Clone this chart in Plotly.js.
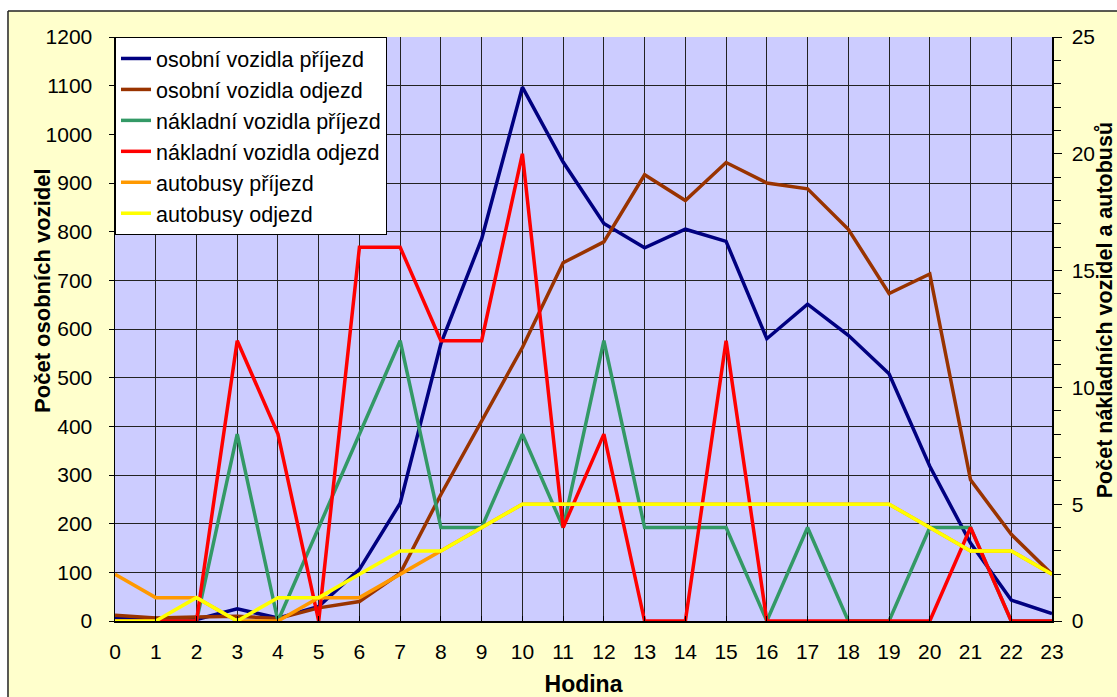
<!DOCTYPE html>
<html>
<head>
<meta charset="utf-8">
<script src="https://cdn.plot.ly/plotly-3.0.1.min.js"></script>
<style>html,body{margin:0;padding:0;background:#fff;}#chart{width:1117px;height:697px;}</style>
</head>
<body>
<div id="chart"></div>
<script>
const hours = [0,1,2,3,4,5,6,7,8,9,10,11,12,13,14,15,16,17,18,19,20,21,22,23];
const osobniPrijezd = [5,5,3,25,6,30,106,242,570,785,1097,943,817,767,805,780,580,651,587,508,318,160,43,15];
const osobniOdjezd  = [12,6,8,10,5,27,40,98,260,410,562,736,779,917,864,942,900,888,805,673,713,290,178,96];
const nakladniPrijezd = [0,0,0,8,0,4,8,12,4,4,8,4,12,4,4,4,0,4,0,0,4,4,0,0];
const nakladniOdjezd  = [0,0,0,12,8,0,16,16,12,12,20,4,8,0,0,12,0,0,0,0,0,4,0,0];
const autobusyPrijezd = [2,1,1,0,0,1,1,2,3,4,5,5,5,5,5,5,5,5,5,5,4,3,3,2];
const autobusyOdjezd  = [0,0,1,0,1,1,2,3,3,4,5,5,5,5,5,5,5,5,5,5,4,3,3,2];
const seriesNames = ["osobní vozidla příjezd","osobní vozidla odjezd","nákladní vozidla příjezd","nákladní vozidla odjezd","autobusy příjezd","autobusy odjezd"];
const seriesColors = ["#000080","#993300","#339966","#FF0000","#FF9900","#FFFF00"];
const leftTicks = [0,100,200,300,400,500,600,700,800,900,1000,1100,1200];
const rightTicks = [0,5,10,15,20,25];
const leftTitle = 'Počet osobních vozidel';
const rightTitle = 'Počet nákladních vozidel a autobusů';

const data = [osobniPrijezd, osobniOdjezd, nakladniPrijezd, nakladniOdjezd, autobusyPrijezd, autobusyOdjezd];
const traces = data.map((vals, i) => ({
  x: hours, y: vals, type: 'scatter', mode: 'lines',
  name: seriesNames[i], legendgroup: 'g' + i,
  yaxis: i < 2 ? 'y' : 'y2',
  line: {color: seriesColors[i], width: 3.5},
  hoverinfo: 'skip'
}));

const FONT = 'Liberation Sans, Arial, sans-serif';
const layout = {
  width: 1117, height: 697,
  margin: {l: 115, r: 65, t: 37, b: 76, pad: 0},
  paper_bgcolor: '#FFFFCC',
  plot_bgcolor: '#CCCCFF',
  font: {family: FONT, size: 21, color: '#000'},
  showlegend: true,
  legend: {
    x: 0, y: 1, xanchor: 'left', yanchor: 'top',
    bgcolor: '#FFFFFF', bordercolor: '#000', borderwidth: 1,
    font: {family: FONT, size: 21.5, color: '#000'},
    traceorder: 'grouped', tracegroupgap: 0,
    itemwidth: 30
  },
  xaxis: {
    range: [0, 23], tickvals: hours, ticktext: hours.map(String),
    showgrid: true, gridcolor: '#222', gridwidth: 1,
    showline: true, linecolor: '#000', linewidth: 1.5, mirror: false,
    ticks: 'inside', ticklen: 5, tickcolor: '#000',
    ticklabelstandoff: 11,
    tickfont: {family: FONT, size: 21, color: '#000'},
    zeroline: false, automargin: false,
    title: {text: 'Hodina', font: {family: FONT, size: 23, color: '#000', weight: 'bold'}, standoff: 16}
  },
  yaxis: {
    range: [0, 1200], tickvals: leftTicks,
    showgrid: true, gridcolor: '#222', gridwidth: 1,
    showline: true, linecolor: '#000', linewidth: 1.5,
    ticks: 'outside', ticklen: 5, tickcolor: '#000',
    ticklabelstandoff: 12,
    tickfont: {family: FONT, size: 21, color: '#000'},
    zeroline: false, automargin: false
  },
  yaxis2: {
    range: [0, 25], tickvals: rightTicks, overlaying: 'y', side: 'right',
    showgrid: false,
    showline: true, linecolor: '#000', linewidth: 1.5,
    ticks: 'outside', ticklen: 8, tickcolor: '#000',
    minor: {dtick: 1, ticks: 'outside', ticklen: 7, tickcolor: '#000', showgrid: false},
    ticklabelstandoff: 6,
    tickfont: {family: FONT, size: 21, color: '#000'},
    zeroline: false, automargin: false
  },
  annotations: [
    {text: '<b>' + leftTitle + '</b>', xref: 'paper', yref: 'paper', x: -0.078, y: 0.565, xanchor: 'center', yanchor: 'middle', textangle: -90, showarrow: false, font: {family: FONT, size: 22, color: '#000'}},
    {text: '<b>' + rightTitle + '</b>', xref: 'paper', yref: 'paper', x: 1.0565, y: 0.532, xanchor: 'center', yanchor: 'middle', textangle: -90, showarrow: false, font: {family: FONT, size: 21.5, color: '#000'}}
  ],
  shapes: [
    {type: 'rect', xref: 'paper', yref: 'paper', x0: -0.2, x1: 1.2, y0: 1.0445, y1: 1.2, fillcolor: '#FFFFFF', line: {width: 0}, layer: 'above'},
    {type: 'rect', xref: 'paper', yref: 'paper', x0: -0.2, x1: -0.1142, y0: -0.3, y1: 1.2, fillcolor: '#FFFFFF', line: {width: 0}, layer: 'above'},
    {type: 'line', xref: 'paper', yref: 'paper', x0: -0.1142, x1: 1.2, y0: 1.0445, y1: 1.0445, line: {color: '#222', width: 1.5}, layer: 'above'},
    {type: 'line', xref: 'paper', yref: 'paper', x0: -0.1142, x1: -0.1142, y0: -0.3, y1: 1.0445, line: {color: '#222', width: 1.5}, layer: 'above'}
  ]
};

Plotly.newPlot('chart', traces, layout, {staticPlot: true, displayModeBar: false});
</script>
</body>
</html>
